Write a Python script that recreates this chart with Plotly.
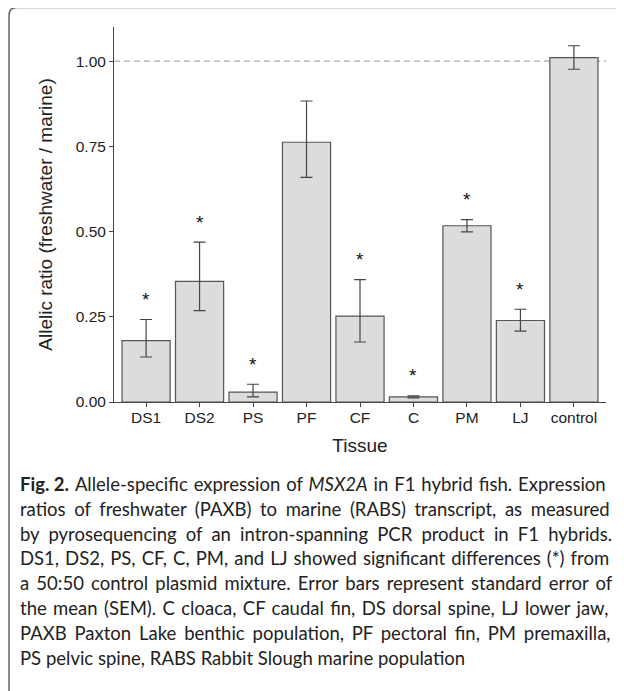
import plotly.graph_objects as go

# ---- data ----
tissues = ["DS1", "DS2", "PS", "PF", "CF", "C", "PM", "LJ", "control"]
ratio = [0.180, 0.354, 0.029, 0.762, 0.252, 0.015, 0.517, 0.239, 1.010]
err_plus = [0.062, 0.115, 0.023, 0.121, 0.107, 0.003, 0.018, 0.033, 0.035]
err_minus = [0.048, 0.086, 0.014, 0.103, 0.076, 0.003, 0.018, 0.031, 0.034]
significant = [True, True, True, False, True, True, True, True, False]
y_ticks = [0.0, 0.25, 0.5, 0.75, 1.0]
y_tick_labels = ["0.00", "0.25", "0.50", "0.75", "1.00"]

caption_lines = [
    "<b>Fig.\u00a02.</b> Allele-specific expression of <i>MSX2A</i> in F1 hybrid fish. Expression",
    "ratios of freshwater (PAXB) to marine (RABS) transcript, as measured",
    "by pyrosequencing of an intron-spanning PCR product in F1 hybrids.",
    "DS1, DS2, PS, CF, C, PM, and LJ showed significant differences (*) from",
    "a 50:50 control plasmid mixture. Error bars represent standard error of",
    "the mean (SEM). C cloaca, CF caudal fin, DS dorsal spine, LJ lower jaw,",
    "PAXB Paxton Lake benthic population, PF pectoral fin, PM premaxilla,",
    "PS pelvic spine, RABS Rabbit Slough marine population",
]
# extra pixels to spread over word gaps to imitate justified text (style)
caption_extra_px = [8, 26, 30, 12, 18, 16, 21, 0]

# page has an 8px body margin; figure is placed at (8, 8)
OFF = 8
W, H = 616, 683
L, R, T, B = 106, 18, 19, 289
PW, PH = W - L - R, H - T - B


def px(x):  # page pixel -> paper
    return (x - OFF - L) / PW


def py(y):
    return (H - B - (y - OFF)) / PH


xs = list(range(len(tissues)))
fig = go.Figure()
fig.add_trace(go.Bar(
    x=xs, y=ratio, width=0.9,
    marker=dict(color="#dcdcdc", line=dict(color="#555555", width=1.2)),
    error_y=dict(type="data", symmetric=False, array=err_plus, arrayminus=err_minus,
                 color="#444444", thickness=1.2, width=6),
    showlegend=False, hoverinfo="skip",
))

# significance stars
for i, s in enumerate(significant):
    if s:
        fig.add_annotation(x=i, y=ratio[i] + err_plus[i] + 0.073, xref="x", yref="y",
                           text="*", showarrow=False, yanchor="middle", yshift=-5,
                           font=dict(family="Liberation Sans, Arial", size=19, color="#111"))

# reference dashed line
fig.add_shape(type="line", xref="paper", yref="y", x0=0, x1=1, y0=1, y1=1,
              line=dict(color="#aaaaaa", width=1.2, dash="6px,4px"), layer="below")

# border with rounded top-left corner
xl, yt, r = 9, 7.5, 8
path = (f"M {px(xl)},{py(H + 40)} L {px(xl)},{py(yt + r)} "
        f"Q {px(xl)},{py(yt)} {px(xl + r)},{py(yt)} L {px(W + 40)},{py(yt)}")
fig.add_shape(type="path", xref="paper", yref="paper", path=path,
              line=dict(color="#666666", width=1.5))

# caption (approximately justified: extra no-break spaces, the last one sized)
cap_family = "Lato"
cap_size = 18.5
NB_EM = 0.193                    # approx. space advance in Lato (em)
nb_px = NB_EM * cap_size
line_h = 24.8
y0 = 484


def justify(text, extra):
    parts = text.split(" ")
    gaps = len(parts) - 1
    if gaps <= 0 or extra <= 0:
        return text
    per = extra / gaps
    out = parts[0]
    for p in parts[1:]:
        n = int(per // nb_px)
        rem = per - n * nb_px
        filler = "\u00a0" * n
        if rem > 0.3:
            filler += f'<span style="font-size:{rem / NB_EM:.2f}px">\u00a0</span>'
        out += " " + filler + p
    return out


for k, t in enumerate(caption_lines):
    fig.add_annotation(x=px(18), y=py(y0 + k * line_h), xref="paper", yref="paper",
                       text=justify(t, caption_extra_px[k]), showarrow=False,
                       xanchor="left", yanchor="middle",
                       font=dict(family=cap_family, size=cap_size, color="#222"))

axis_font = dict(family="Liberation Sans, Arial", size=15.5, color="#222")
title_font = dict(family="Liberation Sans, Arial", size=19, color="#222")
fig.update_layout(
    width=W, height=H, margin=dict(l=L, r=R, t=T, b=B, autoexpand=False),
    paper_bgcolor="white", plot_bgcolor="white",
    xaxis=dict(tickmode="array", tickvals=xs, ticktext=tissues, range=[-0.6, 8.6],
               showgrid=False, zeroline=False, showline=True, linecolor="#444",
               linewidth=1, ticks="outside", ticklen=4, tickcolor="#444",
               tickfont=axis_font, ticklabelstandoff=-3,
               title=dict(text="Tissue", font=title_font, standoff=14)),
    yaxis=dict(tickmode="array", tickvals=y_ticks, ticktext=y_tick_labels, range=[0, 1.1],
               showgrid=False, zeroline=False, showline=True, linecolor="#444",
               linewidth=1, ticks="outside", ticklen=4, tickcolor="#444",
               tickfont=axis_font,
               title=dict(text="Allelic ratio (freshwater / marine)", font=title_font,
                          standoff=18)),
)

fig.write_html("out.html")
